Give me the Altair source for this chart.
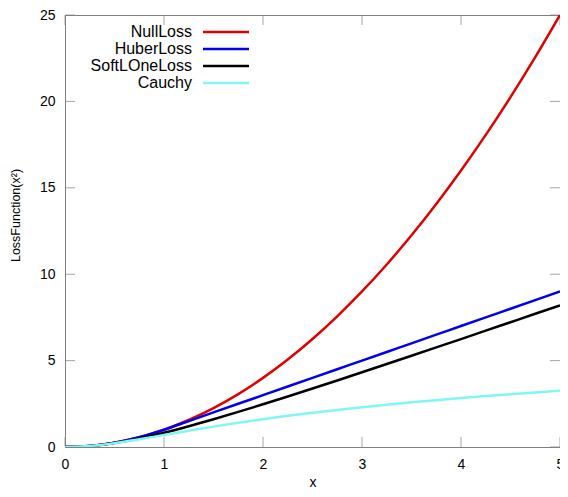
import altair as alt
import pandas as pd

x = [0, 0.25, 0.5, 0.75, 1, 1.25, 1.5, 1.75, 2, 2.25, 2.5, 2.75, 3, 3.25, 3.5, 3.75, 4, 4.25, 4.5, 4.75, 5]
null_loss = [0, 0.0625, 0.25, 0.5625, 1, 1.5625, 2.25, 3.0625, 4, 5.0625, 6.25, 7.5625, 9, 10.5625, 12.25,
             14.0625, 16, 18.0625, 20.25, 22.5625, 25]
huber_loss = [0, 0.0625, 0.25, 0.5625, 1, 1.5, 2, 2.5, 3, 3.5, 4, 4.5, 5, 5.5, 6, 6.5, 7, 7.5, 8, 8.5, 9]
soft_l_one = [0, 0.0616, 0.236, 0.5, 0.828, 1.2016, 1.6056, 2.0312, 2.472, 2.9244, 3.385, 3.852, 4.325,
              4.801, 5.280, 5.762, 6.246, 6.732, 7.220, 7.708, 8.198]
cauchy = [0, 0.0606, 0.2231, 0.4463, 0.6931, 0.9410, 1.1787, 1.4018, 1.6094, 1.8021, 1.9810, 2.1474,
          2.3026, 2.4477, 2.5840, 2.7122, 2.8332, 2.9477, 3.0564, 3.1597, 3.2581]

series_names = ["NullLoss", "HuberLoss", "SoftLOneLoss", "Cauchy"]
series_colors = ["#e00000", "#0000ee", "#000000", "#80f6f6"]
x_ticks = [0, 1, 2, 3, 4, 5]
y_ticks = [0, 5, 10, 15, 20, 25]

FONT = "Liberation Sans"
GREY = "#808080"

rows = []
for name, vals in zip(series_names, [null_loss, huber_loss, soft_l_one, cauchy]):
    for xi, yi in zip(x, vals):
        rows.append({"x": xi, "y": yi, "series": name})
df = pd.DataFrame(rows)

xs = alt.Scale(domain=[0, 5], nice=False, zero=False)
ys = alt.Scale(domain=[0, 25], nice=False, zero=False)
color = alt.Color("series:N", scale=alt.Scale(domain=series_names, range=series_colors), legend=None)

x_axis = alt.Axis(values=x_ticks, format="d", ticks=False, domain=False, grid=False, labelPadding=10,
                  labelFontSize=14, labelFont=FONT, labelColor="black", labelFlush=False,
                  title="x", titleFont=FONT, titleFontSize=14, titleFontWeight="normal",
                  titleColor="black", titleY=39, titleBaseline="alphabetic")
y_axis = alt.Axis(values=y_ticks, format="d", ticks=False, domain=False, grid=False, labelPadding=10,
                  labelFontSize=14, labelFont=FONT, labelColor="black",
                  title="LossFunction(x²)", titleFont=FONT, titleFontSize=12.5,
                  titleFontWeight="normal", titleColor="black", titleX=-46, titleY=200,
                  titleAngle=270, titleAlign="center", titleBaseline="alphabetic")

lines = alt.Chart(df).mark_line(strokeWidth=2.5, interpolate="monotone", clip=True).encode(
    x=alt.X("x:Q", scale=xs, axis=x_axis),
    y=alt.Y("y:Q", scale=ys, axis=y_axis),
    color=color,
    order=alt.Order("x:Q"),
)

xt = pd.DataFrame({"x": x_ticks})
yt = pd.DataFrame({"y": y_ticks})

tick_bottom = alt.Chart(xt).mark_tick(orient="vertical", size=10, thickness=1, color=GREY, yOffset=-5).encode(
    x=alt.X("x:Q", scale=xs), y=alt.datum(0))
tick_top = alt.Chart(xt).mark_tick(orient="vertical", size=10, thickness=1, color=GREY, yOffset=5).encode(
    x=alt.X("x:Q", scale=xs), y=alt.datum(25))
tick_left = alt.Chart(yt).mark_tick(orient="horizontal", size=10, thickness=1, color=GREY, xOffset=5).encode(
    y=alt.Y("y:Q", scale=ys), x=alt.datum(0))
tick_right = alt.Chart(yt).mark_tick(orient="horizontal", size=10, thickness=1, color=GREY, xOffset=-5).encode(
    y=alt.Y("y:Q", scale=ys), x=alt.datum(5))

main = alt.layer(tick_bottom, tick_top, tick_left, tick_right, lines)

leg = pd.DataFrame({"series": series_names})
leg_scale = alt.Scale(type="point", domain=series_names, range=[17, 68], padding=0)
leg_text = alt.Chart(leg).mark_text(align="right", baseline="middle", fontSize=16, font=FONT,
                                    color="black").encode(
    x=alt.value(127),
    y=alt.Y("series:N", scale=leg_scale, axis=None),
    text="series:N",
)
leg_rule = alt.Chart(leg).mark_rule(strokeWidth=2.5).encode(
    x=alt.value(138), x2=alt.value(184),
    y=alt.Y("series:N", scale=leg_scale, axis=None),
    color=color,
)
legend = alt.layer(leg_text, leg_rule)

chart = alt.layer(main, legend).resolve_scale(y="independent").properties(
    width=495, height=432,
    padding={"left": 57, "top": 7, "right": 0, "bottom": 42},
    autosize=alt.AutoSizeParams(type="none"),
    background="white",
).configure_view(stroke=GREY, strokeWidth=1)

chart.save("out.html", embed_options={"renderer": "svg", "actions": False})
